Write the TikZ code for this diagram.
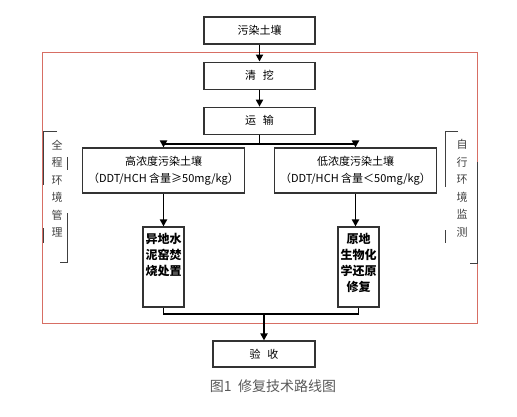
\documentclass[tikz,border=0pt]{standalone}
\usepackage{fontspec}
\newfontfamily\cjk{Noto Sans CJK SC}
\usetikzlibrary{arrows.meta,positioning}
\definecolor{frame}{RGB}{215,110,100}
\newcommand{\colbox}[1]{\parbox[c][80pt][t]{41pt}{\centering\vspace*{6pt}#1}}
\newcommand{\gap}{\hspace{7pt}}

\begin{document}
\begin{tikzpicture}[x=1pt,y=-1pt,>={Triangle[length=7pt,width=7pt]},
  box/.style={draw=black!80,line width=1.1pt,minimum width=111pt,minimum height=27pt,inner sep=0pt,font=\cjk\fontsize{11}{13}\selectfont},
  cbox/.style={box,minimum width=162pt,minimum height=45pt,align=center,font=\cjk\fontsize{11}{17}\selectfont},
  vbox/.style={draw=black!80,line width=1.1pt,inner sep=0pt,font=\cjk\bfseries\fontsize{12}{16}\selectfont},
  side/.style={align=center,text=black!75,font=\cjk\fontsize{11}{17.5}\selectfont},
  brk/.style={draw=black!75,line width=0.9pt},
  flow/.style={line width=1.8pt}]
\useasboundingbox (0,0) rectangle (517,417);
\draw[frame,line width=1pt] (42,53) rectangle (477,323);
\node (wr) [box] at (259.5,30.5) {污染土壤};
\node (qw) [box,below=17pt of wr] {清\gap 挖};
\node (ys) [box,below=17pt of qw] {运\gap 输};
\node (gao) [cbox] at (163.5,170.5) {高浓度污染土壤\\（DDT/HCH 含量≥50mg/kg）};
\node (di) [cbox] at (355.5,170.5) {低浓度污染土壤\\（DDT/HCH 含量＜50mg/kg）};
\node (sn) [vbox] at (163.5,267) {\colbox{异地水\\泥窑焚\\烧处置}};
\node (sw) [vbox] at (358.5,267) {\colbox{原地\\生物化\\学还原\\修复}};
\node (jy) [box,minimum width=102pt,minimum height=26pt] at (264,354) {验\gap 收};
\node (cap) [font=\cjk\fontsize{14}{16}\selectfont,text=black!65] at (273,386) {图1\ \ 修复技术路线图};
\node (qc) [side] at (57,188.5) {全\\程\\环\\境\\管\\理};
\node (zx) [side] at (462,188.5) {自\\行\\环\\境\\监\\测};
% brackets round the side texts
\draw[brk] (57,131) -- (43,131) -- (43,185) (43,228) -- (43,243);
\draw[brk] (67,157) -- (67,170) (67,213) -- (67,262) -- (60,262);
\draw[brk] (458,131) -- (445,131) -- (445,187) (445,230) -- (445,243);
\draw[brk] (477,162) -- (477,263) -- (470,263);
% flow
\draw[flow,->] (wr) -- (qw);
\draw[flow,->] (qw) -- (ys);
\draw[flow] (ys.south) -- ++(0,9) coordinate (fk);
\draw[flow,->] (fk) -| (gao.north);
\draw[flow,->] (fk) -| (di.north);
\draw[flow,->] (gao) -- (sn);
\draw[flow,->] (di) -- (di |- sw.north);
\coordinate (hb) at (264,314);
\draw[flow] (sn.south) |- (hb) -| (sw.south);
\draw[flow,->] (hb) -- (jy);
\end{tikzpicture}
\end{document}
